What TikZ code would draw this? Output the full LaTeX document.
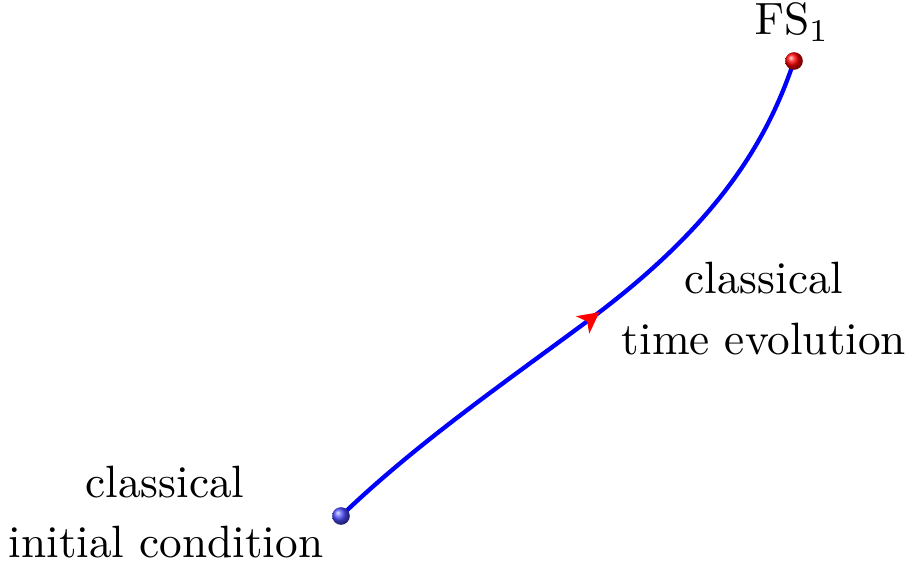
\documentclass[tikz,border=0pt]{standalone}
\usetikzlibrary{arrows.meta,decorations.markings}
\begin{document}
\begin{tikzpicture}[x=0.2209pt,y=0.2209pt,
  lbl/.style={anchor=base,inner sep=0pt},
  ballnode/.style={circle,inner sep=0pt,minimum size=3.9pt,shading=ball},
  traj/.style={blue,line width=0.95pt,
    postaction={decorate},
    decoration={markings,mark=at position 0.505 with {\arrow{Stealth[length=4.6pt,width=4.7pt,inset=1.2pt,red]}}}}]
\useasboundingbox (0,0) rectangle (908,565);
\coordinate (s) at (341,49);
\coordinate (m) at (593,248);
\coordinate (f) at (794,504);
\draw[traj] (s) .. controls (418,123) and (507,184) .. (m) .. controls (713,338) and (765.6,418.6) .. (f);
\node[ballnode,ball color=blue!70] (init) at (s) {};
\node[ballnode,ball color=red] (final) at (f) {};
\node[lbl] (fs) at (792,530) {$\mathrm{FS}_1$};
\node[lbl] (te1) at (764,271) {classical};
\node[lbl] (te2) at (764,210) {time evolution};
\node[lbl] (ic1) at (165,67) {classical};
\node[lbl] (ic2) at (166,7) {initial condition};
\end{tikzpicture}
\end{document}
